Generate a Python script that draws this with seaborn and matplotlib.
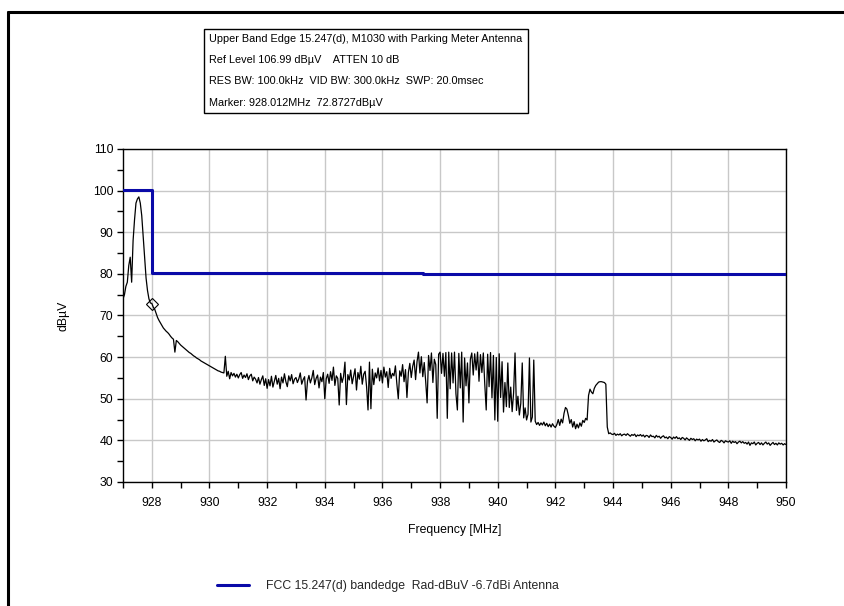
import numpy as np
import pandas as pd
import matplotlib
matplotlib.use("Agg")
import matplotlib.pyplot as plt
from matplotlib.lines import Line2D
from matplotlib.ticker import MultipleLocator
import seaborn as sns

# ---------------- data ----------------
freq_start = 927.0
freq_step = 0.05
trace_927 = [74, 75, 77, 78, 82, 84, 78, 88, 93, 97, 98, 98.5, 97, 94, 89, 84, 79, 76, 74, 73]
trace_928 = [72.9, 72, 71.5, 70.5, 69.5, 68.8, 68.2, 67.6, 67, 66.6, 66.2, 65.9, 65.5, 65.0, 64.6, 64.3, 61.2, 64.0, 63.7, 63.3]
trace_929 = [62.9, 62.6, 62.3, 62, 61.7, 61.4, 61.1, 60.9, 60.6, 60.3, 60.1, 59.8, 59.6, 59.4, 59.1, 58.9, 58.7, 58.5, 58.3, 58.1]
trace_930 = [57.9, 57.7, 57.5, 57.3, 57.1, 56.9, 56.7, 56.6, 56.4, 56.3, 56.2, 60.2, 55.4, 56.6, 54.8, 56.3, 55.5, 56.1, 55.2, 55.9]
trace_931 = [55, 55.8, 56.3, 54.9, 55.7, 55.1, 56, 54.6, 55.5, 55.9, 54.3, 55.2, 54.7, 53.8, 55.1, 53.5, 54.6, 55.5, 53.2, 54.8]
trace_932 = [52.5, 54.6, 53.1, 55.4, 52.8, 54.2, 55.6, 53.5, 54.9, 52.4, 55.2, 53.8, 56, 54.1, 52.9, 55.5, 54.3, 55.8, 53.6, 54.7]
trace_933 = [55.1, 53.9, 54.8, 56.2, 53.5, 54.6, 55.3, 49.7, 54.2, 55.6, 53.8, 55, 56.8, 53.4, 54.9, 55.7, 52.6, 55.2, 54.1, 56.3]
trace_934 = [50.0, 54.8, 55.9, 53.7, 56.5, 54.4, 57.6, 53.2, 55.5, 54.9, 48.5, 56.1, 53.9, 55.3, 58.8, 48.6, 55.8, 54.5, 56.9, 53.6]
trace_935 = [55.4, 57.2, 52.1, 56.3, 54.7, 57.8, 53.5, 55.9, 56.6, 52.9, 47.3, 58.8, 47.6, 57.1, 53.4, 56.2, 55, 57.4, 54.3, 56.8]
trace_936 = [53.8, 57.6, 55.2, 56.5, 52.7, 57.3, 54.9, 56.1, 55.5, 57.9, 53.6, 50, 56.7, 55.4, 58.2, 54.1, 57, 50.3, 56.3, 58.5]
trace_937 = [55.1, 57.8, 59.3, 54.6, 58.9, 61.2, 56.2, 60.1, 55.3, 58.7, 54.2, 49, 60.4, 56.8, 61, 53.9, 59.5, 58.2, 45.3, 60.7]
trace_938 = [61.2, 56.1, 60.9, 55.4, 61.1, 45.3, 61.2, 52.4, 61, 53.8, 61.2, 51.2, 47.3, 60.9, 52.6, 61.2, 44.4, 59.8, 53.1, 58.6]
trace_939 = [49, 59.5, 61, 55.7, 60.8, 56.9, 61.2, 54.2, 60.6, 56.3, 61, 53.5, 47.3, 60.7, 52.9, 61.1, 50.2, 60.4, 44.9, 59.9]
trace_940 = [44.6, 60.8, 50.3, 58.9, 46.8, 53.9, 48.1, 58.6, 47.9, 52.8, 46.9, 51.4, 61, 47.2, 50.6, 46.1, 48.9, 58.6, 45.4, 47.8]
trace_941 = [44.9, 46.3, 59.8, 44.4, 45.6, 59.3, 44.6, 43.8, 44.3, 43.6, 44.2, 43.7, 44.4, 43.5, 44.1, 43.3, 43.9, 43.2, 44, 43.4]
trace_942 = [43.1, 43.8, 45, 43.6, 45.1, 44.2, 46.5, 47.9, 47.5, 46, 44.1, 45, 43.2, 44.5, 42.8, 43.9, 43, 44.2, 43.4, 44.8]
trace_943 = [44.3, 45.3, 44.9, 50.8, 52.3, 51.6, 51.2, 52.5, 53.2, 53.6, 54, 54.1, 54.1, 54, 53.9, 53.5, 43.2, 41.6, 41.8, 41.5]
trace_944 = [41.4, 41.7, 41.2, 41.5, 41.3, 41.6, 41.1, 41.4, 41.5, 41.2, 41.6, 41.3, 41.0, 41.4, 41.2, 41.5, 40.9, 41.3, 41.1, 41.4]
trace_945 = [41.0, 41.3, 40.8, 41.2, 41.1, 40.7, 41.3, 40.9, 41.0, 40.6, 41.2, 40.8, 41.0, 40.5, 40.9, 41.1, 40.6, 40.8, 40.4, 40.9]
trace_946 = [40.7, 40.3, 40.8, 40.5, 40.9, 40.4, 40.6, 40.2, 40.7, 40.5, 40.1, 40.6, 40.3, 40.0, 40.5, 40.2, 40.4, 39.9, 40.3, 40.1]
trace_947 = [40.3, 39.8, 40.2, 39.9, 40.1, 40.4, 39.7, 40.0, 39.8, 40.2, 39.6, 39.9, 40.1, 39.7, 39.5, 40.0, 39.8, 39.4, 39.9, 39.7]
trace_948 = [39.6, 39.9, 39.3, 39.8, 39.5, 39.7, 39.2, 39.6, 39.8, 39.4, 39.7, 39.3, 39.5, 39.1, 39.6, 38.8, 39.4, 39.2, 39.6, 38.9]
trace_949 = [39.3, 39.5, 39.0, 39.4, 38.9, 39.3, 39.6, 39.1, 39.4, 38.8, 39.2, 39.5, 39.0, 39.3, 38.9, 39.4, 39.1, 39.3, 38.9, 39.2]
trace_950 = [39.0]

limit_freq = [927.0, 928.0, 928.0, 937.4, 937.4, 950.0]
limit_level = [100.2, 100.2, 80.2, 80.2, 79.95, 79.95]

marker_freq = 928.012
marker_level = 72.8727

legend_label = "FCC 15.247(d) bandedge  Rad-dBuV -6.7dBi Antenna"
info_lines = [
    "Upper Band Edge 15.247(d), M1030 with Parking Meter Antenna",
    "Ref Level 106.99 dB\u00b5V    ATTEN 10 dB",
    "RES BW: 100.0kHz  VID BW: 300.0kHz  SWP: 20.0msec",
    "Marker: 928.012MHz  72.8727dB\u00b5V",
]
x_label = "Frequency [MHz]"
y_label = "dB\u00b5V"

# ---------------- build ----------------
trace = (trace_927 + trace_928 + trace_929 + trace_930 + trace_931 + trace_932 +
         trace_933 + trace_934 + trace_935 + trace_936 + trace_937 + trace_938 +
         trace_939 + trace_940 + trace_941 + trace_942 + trace_943 + trace_944 +
         trace_945 + trace_946 + trace_947 + trace_948 + trace_949 + trace_950)
freqs = freq_start + freq_step * np.arange(len(trace))
df_trace = pd.DataFrame({"freq": freqs, "level": trace})
df_limit = pd.DataFrame({"freq": limit_freq, "level": limit_level})

sns.set_theme(style="ticks")
plt.rcParams["font.family"] = ["Liberation Sans", "DejaVu Sans"]
fs = 8.8

fig = plt.figure(figsize=(8.44, 6.06), dpi=100)
fig.patch.set_facecolor("white")
ax = fig.add_axes([123 / 844, 1 - 482 / 606, 663 / 844, 333 / 606])

sns.lineplot(data=df_trace, x="freq", y="level", ax=ax, color="black",
             linewidth=0.9, sort=False, estimator=None, zorder=3)
sns.lineplot(data=df_limit, x="freq", y="level", ax=ax, color="#0A0AA8",
             linewidth=2.2, sort=False, estimator=None, zorder=4)
ax.plot([marker_freq], [marker_level], marker="D", markersize=6,
        markerfacecolor="none", markeredgecolor="black", markeredgewidth=0.8, zorder=5)

ax.set_xlim(927, 950)
ax.set_ylim(30, 110)
ax.xaxis.set_major_locator(MultipleLocator(2))
ax.xaxis.set_minor_locator(MultipleLocator(1))
ax.yaxis.set_major_locator(MultipleLocator(10))
ax.yaxis.set_minor_locator(MultipleLocator(5))
ax.set_xticks(np.arange(928, 951, 2))
ax.grid(True, which="major", color="#C8C8C8", linewidth=1.0)
ax.set_axisbelow(True)
for s in ax.spines.values():
    s.set_color("black")
    s.set_linewidth(1.0)
ax.tick_params(which="both", direction="out", length=4, width=1, color="black",
               labelcolor="black", labelsize=fs)
ax.tick_params(axis="x", which="major", pad=7)
ax.tick_params(axis="y", which="major", pad=3)
ax.set_xlabel(x_label, fontsize=fs, labelpad=10.5, color="black")
ax.set_ylabel(y_label, fontsize=fs, labelpad=17, color="black")

# info box
fig.text(209 / 844, 1 - 34 / 606, "\n".join(info_lines), fontsize=7.8,
         va="top", ha="left", linespacing=2.4, color="black",
         bbox=dict(boxstyle="square,pad=0.5", facecolor="white",
                   edgecolor="black", linewidth=1.0))

# legend
handle = Line2D([], [], color="#0A0AA8", linewidth=2.2)
fig.legend([handle], [legend_label], loc="center", bbox_to_anchor=(388 / 844, 1 - 586 / 606),
           frameon=False, prop={"size": fs}, handlelength=2.6, handletextpad=1.4)

# figure frame (top and left only)
fig.add_artist(Line2D([8 / 844, 1.0], [1 - 12 / 606, 1 - 12 / 606], transform=fig.transFigure,
                      color="black", linewidth=2.2))
fig.add_artist(Line2D([8 / 844, 8 / 844], [0, 1 - 12 / 606], transform=fig.transFigure,
                      color="black", linewidth=2.2))

fig.savefig("out.png", dpi=100, facecolor="white")
